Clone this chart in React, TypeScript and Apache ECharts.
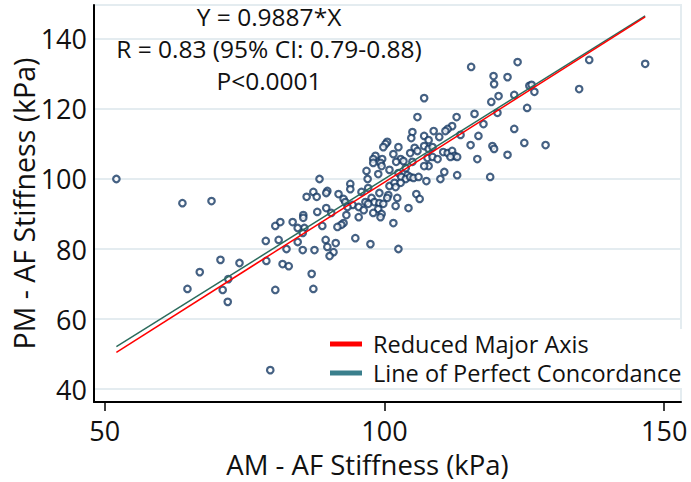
import React, { useEffect, useRef } from "react";
import * as echarts from "echarts";

// AM - AF stiffness (x) and PM - AF stiffness (y), kPa
const amStiffness = [
  115.5, 123.8, 119.5, 122.0, 119.6, 107.1, 123.2, 120.4, 119.1, 125.9,
  125.5, 116.1, 120.2, 105.9, 112.9, 117.7, 112.1, 111.3, 110.9, 108.8,
  123.2, 105.0, 104.8, 107.1, 109.8, 107.9, 113.6, 116.8, 100.5, 100.2,
  99.8, 102.5, 105.4, 125.0, 115.4, 119.3, 119.6, 122.0, 116.6, 107.1,
  107.9, 108.6, 105.9, 104.6, 101.6, 98.4, 98.0, 99.6, 102.9, 103.4,
  102.1, 99.3, 98.0, 99.5, 105.0, 107.7, 108.6, 109.5, 110.5, 111.3,
  112.1, 112.5, 111.8, 113.0, 107.9, 107.1, 110.7, 110.0, 113.0, 118.9,
  96.8, 98.9, 100.9, 102.5, 103.8, 104.1, 103.0, 103.8, 104.6, 105.2,
  106.1, 107.5, 97.0, 100.9, 101.8, 102.9, 102.0, 88.4, 93.9, 93.9,
  97.1, 95.9, 99.1, 100.7, 91.8, 92.7, 93.0, 89.8, 89.6, 87.3,
  87.9, 86.1, 97.7, 96.6, 98.2, 99.1, 100.5, 102.3, 105.7, 106.3,
  94.3, 93.4, 95.4, 97.1, 99.8, 96.3, 98.9, 102.0, 104.3, 89.6,
  88.0, 90.5, 93.2, 95.4, 98.0, 99.5, 99.3, 85.5, 85.5, 92.7,
  92.3, 91.6, 101.6, 88.9, 85.7, 94.8, 89.5, 91.3, 97.5, 89.8,
  85.4, 87.5, 90.9, 90.2, 102.5, 78.8, 81.1, 84.5, 82.5, 70.7,
  74.1, 67.0, 78.9, 81.8, 82.9, 72.1, 64.8, 71.1, 72.0, 80.5,
  87.0, 87.3, 79.6, 85.4, 52.1, 63.9, 69.1, 80.5, 81.4, 83.6,
  84.5, 126.3, 126.8, 136.6, 134.8, 146.6, 128.8
];
const pmStiffness = [
  132.0, 133.4, 129.4, 129.1, 127.1, 123.1, 124.0, 123.7, 122.0, 126.6,
  120.3, 118.6, 118.9, 117.7, 117.7, 115.7, 115.1, 114.3, 113.7, 113.7,
  114.3, 113.4, 111.7, 112.3, 112.0, 111.1, 112.6, 112.3, 110.6, 110.0,
  109.1, 109.1, 108.9, 110.3, 109.7, 109.4, 108.6, 106.9, 105.7, 109.4,
  108.6, 109.1, 108.0, 107.4, 107.1, 106.6, 105.7, 105.7, 105.7, 105.1,
  104.9, 104.6, 104.6, 103.7, 104.9, 106.0, 106.3, 105.7, 107.7, 107.4,
  108.0, 106.6, 106.3, 106.3, 103.7, 103.7, 102.0, 100.0, 101.1, 100.6,
  102.3, 101.4, 102.6, 101.7, 103.1, 101.1, 100.6, 100.0, 100.6, 100.3,
  100.6, 99.4, 100.0, 98.0, 98.9, 98.9, 97.7, 100.0, 98.6, 97.1,
  97.4, 96.3, 96.0, 95.4, 95.7, 94.3, 93.4, 96.6, 96.0, 96.3,
  94.9, 94.9, 94.6, 93.4, 93.4, 93.1, 94.6, 94.6, 95.7, 94.3,
  92.6, 92.0, 92.0, 92.9, 92.9, 91.1, 91.4, 92.3, 91.7, 91.7,
  90.6, 90.3, 89.7, 89.1, 90.3, 90.0, 89.1, 89.7, 88.9, 87.4,
  86.9, 86.3, 87.4, 86.6, 86.0, 83.1, 82.6, 81.7, 81.4, 80.6,
  79.7, 79.7, 79.1, 78.0, 80.0, 82.3, 82.6, 82.0, 80.0, 76.9,
  76.0, 73.4, 76.6, 75.7, 75.1, 71.4, 68.6, 68.3, 64.9, 68.3,
  72.9, 68.6, 45.4, 84.6, 100.0, 93.1, 93.7, 86.6, 87.7, 87.7,
  86.0, 126.9, 124.9, 134.0, 125.7, 132.9, 109.7
];

// fitted lines (end points at the data's x range)
const rmaX = [52.1, 146.6];
const rmaY = [50.5, 146.3];
const concordanceX = [52.1, 146.6];
const concordanceY = [52.1, 146.6];

const xTicks = [50, 100, 150];
const yTicks = [40, 60, 80, 100, 120, 140];

const annotationLines = ["Y = 0.9887*X", "R = 0.83 (95% CI: 0.79-0.88)", "P<0.0001"];

const FONT = "'Open Sans', 'Noto Sans', sans-serif";

export default function App() {
  const ref = useRef<HTMLDivElement>(null);
  useEffect(() => {
    if (!ref.current) return;
    const chart = echarts.init(ref.current, undefined, { renderer: "svg" });
    const points = amStiffness.map((x, i) => [x, pmStiffness[i]]);
    const rma = rmaX.map((x, i) => [x, rmaY[i]]);
    const conc = concordanceX.map((x, i) => [x, concordanceY[i]]);
    chart.setOption({
      animation: false,
      backgroundColor: "#ffffff",
      textStyle: { fontFamily: FONT },
      grid: {
        left: 94,
        right: 10,
        top: 5,
        bottom: 80,
        containLabel: false,
        outerBoundsMode: "none",
        show: true,
        borderColor: "#e4ecf0",
        borderWidth: 2,
      },
      xAxis: {
        type: "value",
        min: 48.1,
        max: 153,
        name: "AM - AF Stiffness (kPa)",
        nameLocation: "middle",
        nameMoveOverlap: false,
        nameGap: 48,
        nameTextStyle: {
          fontSize: 27.5,
          lineHeight: 28,
          color: "#111",
          fontFamily: FONT,
          padding: [0, 40, 0, 0],
        },
        axisLine: { show: true, onZero: false, lineStyle: { color: "#000", width: 2 } },
        axisTick: { show: true, customValues: xTicks, length: 9, lineStyle: { color: "#000", width: 1.5 } },
        axisLabel: {
          customValues: xTicks,
          fontSize: 27,
          lineHeight: 27,
          color: "#111",
          margin: 15,
          fontFamily: FONT,
        },
        splitLine: { show: false },
      },
      yAxis: {
        type: "value",
        min: 36.3,
        max: 149.7,
        name: "PM - AF Stiffness (kPa)",
        nameLocation: "middle",
        nameMoveOverlap: false,
        nameGap: 56,
        nameTextStyle: { fontSize: 28.5, lineHeight: 29, color: "#111", fontFamily: FONT },
        axisLine: { show: true, onZero: false, lineStyle: { color: "#000", width: 2 } },
        axisTick: { show: false, customValues: yTicks },
        axisLabel: { customValues: yTicks, fontSize: 27, color: "#111", margin: 7, fontFamily: FONT },
        splitLine: { show: true, lineStyle: { color: "#e4ecf0", width: 2 } },
      },
      legend: {
        orient: "vertical",
        left: 326,
        top: 329,
        icon: "rect",
        itemWidth: 32,
        itemHeight: 5,
        itemGap: 5,
        padding: [3, 6, 3, 4],
        backgroundColor: "#ffffff",
        textStyle: { fontSize: 23.5, color: "#111", fontFamily: FONT, padding: [0, 0, 0, 6] },
        data: [
          { name: "Reduced Major Axis", itemStyle: { color: "#ff0000" } },
          { name: "Line of Perfect Concordance", itemStyle: { color: "#3a7f8c" } },
        ],
      },
      graphic: annotationLines.map((t, i) => ({
        type: "text",
        x: 269,
        y: 16.5 + i * 32,
        z: 10,
        style: {
          text: t,
          fontSize: 24.5,
          fontFamily: FONT,
          fill: "#111",
          textAlign: "center",
          textVerticalAlign: "middle",
        },
      })),
      series: [
        {
          name: "data",
          type: "scatter",
          data: points,
          z: 2,
          symbol: "circle",
          symbolSize: 6.5,
          itemStyle: { color: "#ffffff", borderColor: "#163a64", borderWidth: 2.2 },
        },
        {
          name: "Line of Perfect Concordance",
          type: "line",
          data: conc,
          z: 3,
          symbol: "none",
          lineStyle: { color: "#2c6b5c", width: 1.5 },
          itemStyle: { color: "#3a7f8c" },
        },
        {
          name: "Reduced Major Axis",
          type: "line",
          data: rma,
          z: 3,
          symbol: "none",
          lineStyle: { color: "#ff0000", width: 1.5 },
          itemStyle: { color: "#ff0000" },
        },
      ],
    });
    return () => chart.dispose();
  }, []);
  return (
    <div
      ref={ref}
      style={{ position: "fixed", left: 0, top: 0, width: 691, height: 482, background: "#fff" }}
    />
  );
}
